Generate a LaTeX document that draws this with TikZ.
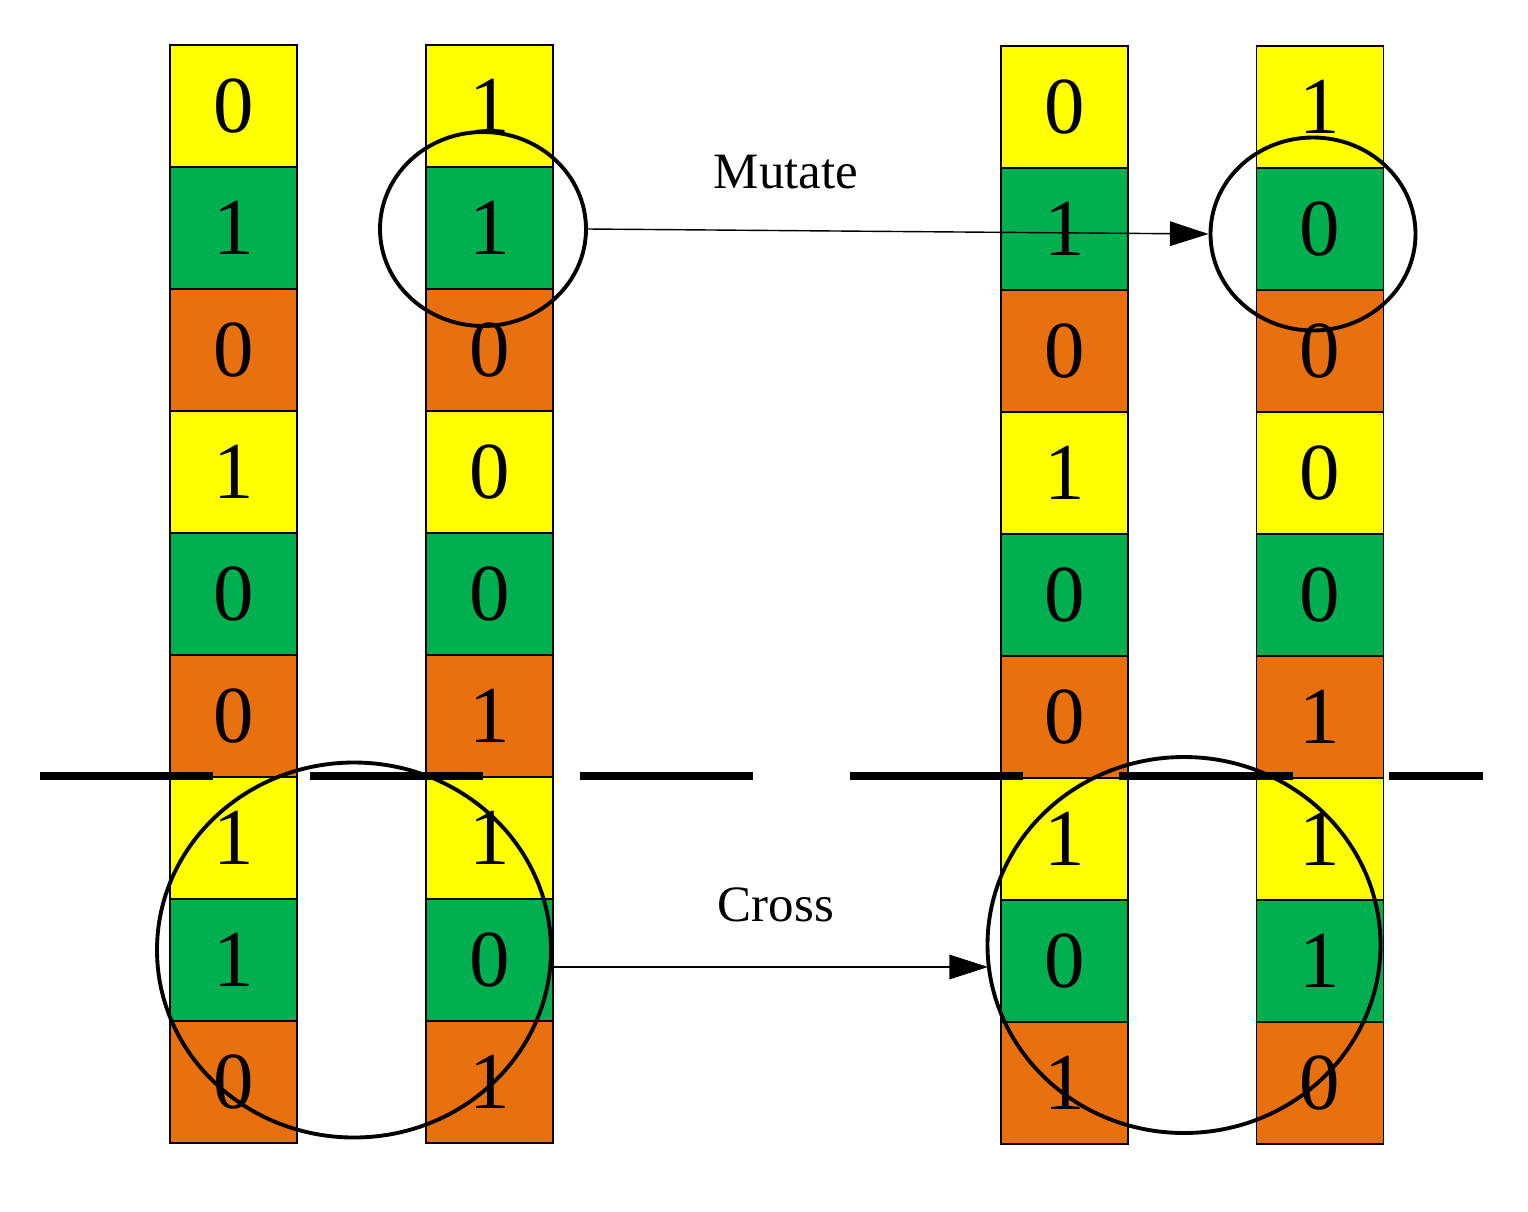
\documentclass[tikz,border=0pt]{standalone}
\usepackage{fontspec}
\setmainfont{Liberation Serif}
\usetikzlibrary{shapes.geometric,arrows.meta}
\definecolor{cy}{HTML}{FFFF00}
\definecolor{cg}{HTML}{00B050}
\definecolor{co}{HTML}{E8700F}
\begin{document}
\begin{tikzpicture}[x=0.02cm,y=-0.02cm,
  cell/.style={draw=black,line width=0.8pt,minimum width=127*0.02cm,minimum height=122*0.02cm,inner sep=0,font=\fontsize{46}{46}\selectfont},
  ring/.style={draw=black,line width=2.2pt,ellipse,inner sep=0},
  arr/.style={line width=0.8pt,-{Triangle[length=22pt,width=14pt]}},
  lab/.style={font=\fontsize{29}{29}\selectfont}]
\useasboundingbox (0,0) rectangle (1528,1211);
\def\cols{{"cy","cg","co","cy","cg","co","cy","cg","co"}}
\foreach \c/\x/\t/\vals in {1/233.5/45/{0,1,0,1,0,0,1,1,0},2/489.5/45/{1,1,0,0,0,1,1,0,1},3/1064.5/46/{0,1,0,1,0,0,1,0,1},4/1320/46/{1,0,0,0,0,1,1,1,0}}{
  \foreach \v [count=\i from 0] in \vals {
    \pgfmathsetmacro{\cc}{\cols[\i]}
    \node[cell,fill=\cc] (c\c r\i) at (\x,{\t+61+122*\i}) {\v};
  }
}
\draw[line width=4.5pt,dash pattern=on 98.6pt off 55pt] (40,776) -- (1483,776);
\node[ring,minimum width=206*0.02cm,minimum height=194*0.02cm] (m1) at (483,229) {};
\node[ring,minimum width=205*0.02cm,minimum height=193*0.02cm] (m2) at (1313,234) {};
\node[ring,minimum width=394*0.02cm,minimum height=375*0.02cm] (x1) at (354,950) {};
\node[ring,minimum width=393*0.02cm,minimum height=376*0.02cm] (x2) at (1184,945) {};
\draw[arr] (m1.east) -- (m2.west);
\coordinate (xs) at (551,967);
\coordinate (xe) at (988,967);
\draw[arr] (xs) -- (xe);
\node[lab] (lm) at (786,172) {Mutate};
\node[lab] (lc) at (776,905) {Cross};
\end{tikzpicture}
\end{document}
